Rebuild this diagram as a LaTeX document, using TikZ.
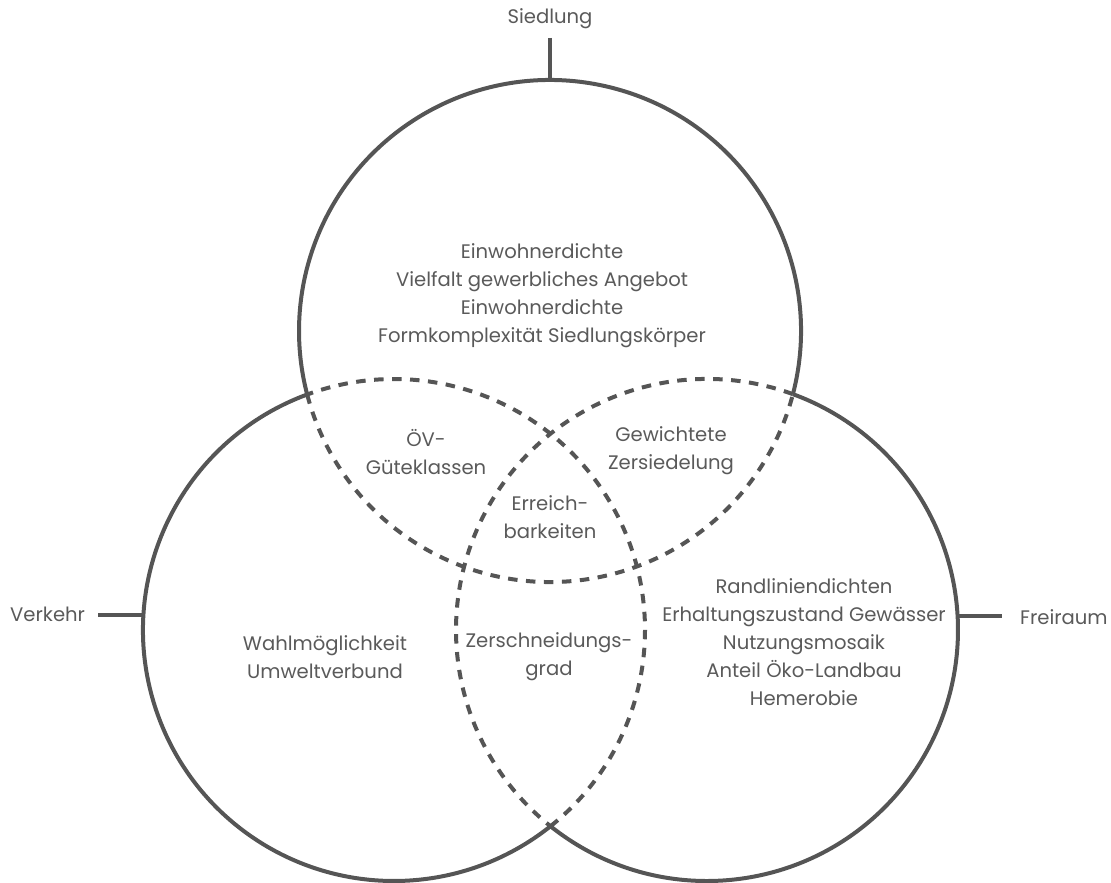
\documentclass[tikz,border=0pt]{standalone}
\usepackage{fontspec}
\setmainfont{Poppins}
\begin{document}
\begin{tikzpicture}[x=1pt,y=-1pt,
  outline/.style={draw=linegray,line width=4pt},
  overlap/.style={draw=linegray,line width=4pt,dash pattern=on 9.5pt off 8.5pt},
  tick/.style={draw=linegray,line width=4pt},
  label/.style={text=textgray,font=\fontsize{19.6}{28}\selectfont,align=center,inner sep=0pt},
]
\definecolor{linegray}{HTML}{555555}
\definecolor{textgray}{HTML}{5A5A5A}
\useasboundingbox (0,0) rectangle (1111,883);

% circle centres (radius 251); arc angles are measured with y pointing up
\coordinate (cT) at (550,331);
\coordinate (cL) at (394,630);
\coordinate (cR) at (707,630);

% outer boundary of the union (solid)
\draw[outline] (cT) ++(-14.58:251pt) arc[start angle=-14.58,end angle=194.66,radius=251pt];
\draw[outline] (cL) ++(110.23:251pt) arc[start angle=110.23,end angle=308.58,radius=251pt];
\draw[outline] (cR) ++(-128.58:251pt) arc[start angle=-128.58,end angle=70,radius=251pt];

% inner arcs (dashed)
\draw[overlap] (cT) ++(194.66:251pt) arc[start angle=194.66,end angle=345.42,radius=251pt];
\draw[overlap] (cL) ++(-51.42:251pt) arc[start angle=-51.42,end angle=110.23,radius=251pt];
\draw[overlap] (cR) ++(70:251pt) arc[start angle=70,end angle=231.42,radius=251pt];

% ticks to the group labels
\coordinate (tTa) at (550,38);
\coordinate (tTb) at (550,80);
\coordinate (tLa) at (98,615);
\coordinate (tLb) at (143.5,615);
\coordinate (tRa) at (958,616);
\coordinate (tRb) at (1002,616);
\draw[tick] (tTa) -- (tTb);
\draw[tick] (tLa) -- (tLb);
\draw[tick] (tRa) -- (tRb);

\node[label] (siedlung) at (550,19) {Siedlung};
\node[label,anchor=west] (verkehr) at (10,614) {Verkehr};
\node[label,anchor=west] (freiraum) at (1020,617) {Freiraum};

\node[label] (top) at (542,296) {Einwohnerdichte\\Vielfalt gewerbliches Angebot\\Einwohnerdichte\\Formkomplexität Siedlungskörper};
\node[label] (oev) at (426,452) {ÖV-\\Güteklassen};
\node[label] (gew) at (671,451) {Gewichtete\\Zersiedelung};
\node[label] (err) at (550,517) {Erreich-\\barkeiten};
\node[label] (wahl) at (325,657) {Wahlmöglichkeit\\Umweltverbund};
\node[label] (zer) at (549,657) {Zerschneidungs-\\grad};
\node[label] (frei) at (804,642) {Randliniendichten\\Erhaltungszustand Gewässer\\Nutzungsmosaik\\Anteil Öko-Landbau\\Hemerobie};
\end{tikzpicture}
\end{document}
